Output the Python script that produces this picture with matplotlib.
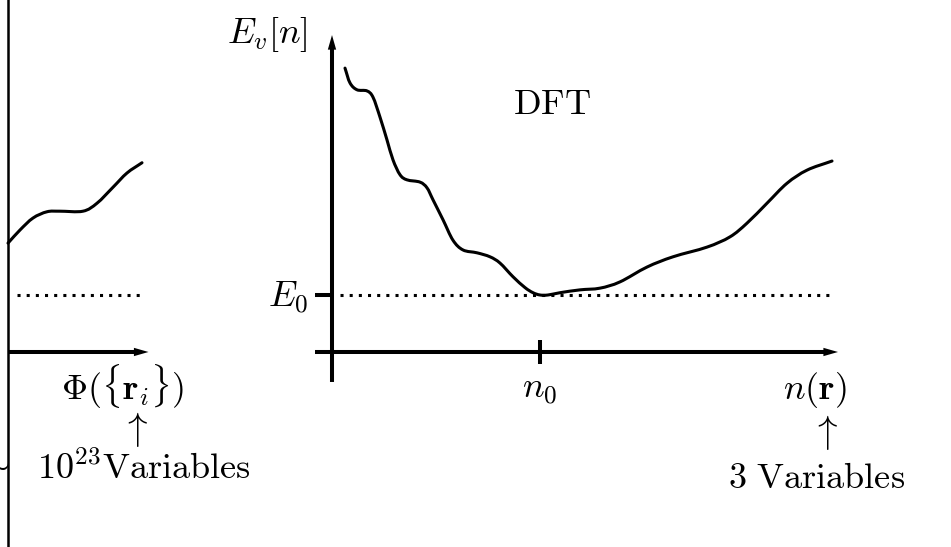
import numpy as np
import matplotlib
matplotlib.use("Agg")
import matplotlib.pyplot as plt
from matplotlib.path import Path
from matplotlib.patches import PathPatch

plt.rcParams["mathtext.fontset"] = "cm"

# Energy landscape sketched over the many-body configuration space (left panel)
phi_coord = [0.0, 0.024, 0.050, 0.078, 0.104, 0.150, 0.178, 0.210, 0.238, 0.268]
phi_energy = [1.91, 2.14, 2.35, 2.46, 2.47, 2.47, 2.61, 2.89, 3.14, 3.32]

# Energy functional E_v[n] over densities n(r) (right panel)
dens = [0.026, 0.036, 0.050, 0.070, 0.082, 0.096, 0.110, 0.122, 0.136,
        0.150, 0.176, 0.190, 0.202, 0.222, 0.242, 0.262, 0.290, 0.316,
        0.336, 0.362, 0.386, 0.402, 0.416, 0.432, 0.456, 0.496, 0.536,
        0.576, 0.630, 0.682, 0.750, 0.796, 0.830, 0.870, 0.910, 0.950,
        1.000]
energy = [4.98, 4.72, 4.60, 4.58, 4.47, 4.12, 3.72, 3.37, 3.11,
          3.02, 2.98, 2.88, 2.67, 2.32, 1.96, 1.79, 1.74, 1.67,
          1.56, 1.32, 1.13, 1.04, 1.00, 1.00, 1.04, 1.09, 1.12,
          1.23, 1.49, 1.67, 1.84, 2.02, 2.26, 2.61, 2.96, 3.19,
          3.35]

E_ground = 1.0      # ground-state energy E_0
n_ground = 0.416    # ground-state density n_0

FS = 26
LW_CURVE = 2.2
LW_AXIS = 2.9

fig = plt.figure(figsize=(9.51, 5.47), dpi=100)
fig.patch.set_facecolor("white")


def panel(xlim, ylim):
    ax = fig.add_axes([0, 0, 1, 1])
    ax.set_xlim(*xlim)
    ax.set_ylim(*ylim)
    ax.set_axis_off()
    ax.patch.set_visible(False)
    return ax


def axis_arrow(ax, start, end):
    ax.annotate("", xy=end, xytext=start, xycoords="data",
                arrowprops=dict(width=LW_AXIS, headwidth=6.0, headlength=10.5,
                                shrink=0, lw=0, fc="black", ec="black"),
                annotation_clip=False)


def smooth_curve(ax, xs, ys):
    """Draw a smooth curve through the given points (Catmull-Rom as cubic Beziers)."""
    p = np.column_stack([xs, ys]).astype(float)
    ext = np.vstack([2 * p[0] - p[1], p, 2 * p[-1] - p[-2]])
    verts = [p[0]]
    codes = [Path.MOVETO]
    for i in range(1, len(ext) - 2):
        p0, p1, p2, p3 = ext[i - 1], ext[i], ext[i + 1], ext[i + 2]
        verts += [p1 + (p2 - p0) / 6.0, p2 - (p3 - p1) / 6.0, p2]
        codes += [Path.CURVE4] * 3
    ax.add_patch(PathPatch(Path(verts, codes), fill=False, ec="black",
                           lw=LW_CURVE, capstyle="round", joinstyle="round"))


ylim = (-3.421, 6.175)

# ---- left panel: many-body wavefunction picture ----
axl = panel((-0.016, 1.886), ylim)
axl.axvline(0.0, color="black", lw=1.8)
smooth_curve(axl, phi_coord, phi_energy)
axl.plot([0.018, 0.272], [E_ground, E_ground], color="black", lw=2.2,
         linestyle=(0, (1, 2)), dash_capstyle="butt")
axis_arrow(axl, (0.0, 0.0), (0.281, 0.0))
axl.text(0.228, -0.84, r"$\Phi(\{\mathbf{r}_i\})$", fontsize=FS,
         ha="center", va="baseline")
axl.text(0.254, -1.36, r"$\uparrow$", fontsize=28, ha="center", va="center")
axl.text(0.005, -2.12, r"$\sim$", fontsize=FS, ha="right", va="baseline")
axl.text(0.058, -2.23, r"$10^{23}\mathrm{Variables}$", fontsize=FS,
         ha="left", va="baseline")

# ---- right panel: density functional picture ----
axr = panel((-0.664, 1.238), ylim)
smooth_curve(axr, dens, energy)
axr.plot([0.016, 1.006], [E_ground, E_ground], color="black", lw=2.2,
         linestyle=(0, (1, 2)), dash_capstyle="butt")
axis_arrow(axr, (-0.034, 0.0), (1.012, 0.0))
axis_arrow(axr, (0.0, -0.526), (0.0, 5.56))
axr.plot([-0.034, 0.0], [E_ground, E_ground], color="black", lw=LW_AXIS,
         solid_capstyle="butt")
axr.plot([n_ground, n_ground], [-0.21, 0.21], color="black", lw=LW_AXIS,
         solid_capstyle="butt")

axr.text(-0.048, 5.42, r"$E_v[n]$", fontsize=FS, ha="right", va="baseline")
axr.text(0.44, 4.18, r"$\mathrm{DFT}$", fontsize=FS, ha="center", va="baseline")
axr.text(-0.048, 0.79, r"$E_0$", fontsize=FS, ha="right", va="baseline")
axr.text(n_ground, -0.82, r"$n_0$", fontsize=FS, ha="center", va="baseline")
axr.text(0.966, -0.82, r"$n(\mathbf{r})$", fontsize=FS, ha="center", va="baseline")
axr.text(0.986, -1.42, r"$\uparrow$", fontsize=28, ha="center", va="center")
axr.text(0.97, -2.39, r"$\mathrm{3\ Variables}$", fontsize=FS,
         ha="center", va="baseline")

fig.savefig("out.png", dpi=100, facecolor="white")
